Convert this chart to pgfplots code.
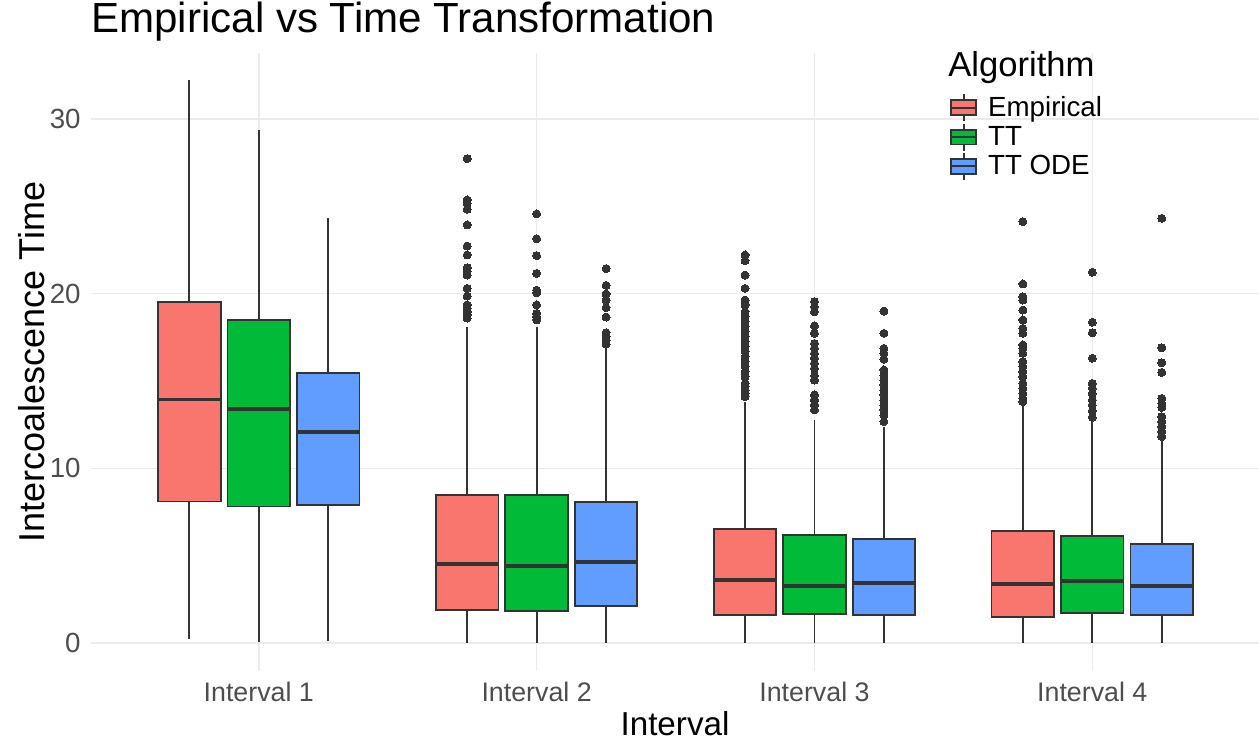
\documentclass[border=0pt]{standalone}
\usepackage{fontspec}
\setmainfont{Liberation Sans}
\usepackage{pgfplots}
\pgfplotsset{compat=1.18}
\usepgfplotslibrary{statistics}
\definecolor{cEmp}{HTML}{F8766D}
\definecolor{cTT}{HTML}{00BA38}
\definecolor{cODE}{HTML}{619CFF}
\definecolor{cLine}{HTML}{333333}
\definecolor{cGrid}{HTML}{EBEBEB}
\definecolor{cTick}{HTML}{4D4D4D}
\newcommand{\legkey}[1]{%
  \draw[cLine, line width=0.9pt] (6.25pt,-6.75pt) -- (6.25pt,6.75pt);
  \draw[cLine, fill=#1, line width=0.9pt] (0pt,-3.7pt) rectangle (12.5pt,3.7pt);
  \draw[cLine, line width=0.9pt] (0pt,0pt) -- (12.5pt,0pt);}
\pgfplotsset{
  mybox/.style={forget plot, draw=cLine, line width=0.9pt, fill=#1,
    mark=*, mark size=2pt, mark options={fill=cLine, draw=cLine, line width=0pt, solid},
    boxplot/every median/.style={line width=1.7pt}},
}
\begin{document}
\begin{tikzpicture}
\useasboundingbox (-45.5pt,-34.5pt) rectangle (584pt,335.5pt);
\begin{axis}[
  scale only axis, width=584pt, height=309pt,
  xmin=0.396, xmax=4.6, ymin=-1.60, ymax=33.77,
  clip=false,
  boxplot/draw direction=y,
  boxplot/box extend=0.225, boxplot/whisker extend=0,
  xtick={1,2,3,4}, xticklabels={Interval 1,Interval 2,Interval 3,Interval 4},
  ytick={0,10,20,30},
  grid=major, major grid style={cGrid, line width=0.75pt},
  axis line style={draw=none}, major tick length=0pt,
  tick label style={font=\fontsize{13.85}{16}\selectfont, text=cTick},
  /pgf/number format/assume math mode=true,
  yticklabel style={anchor=east, inner sep=0pt, xshift=-5pt},
  xticklabel style={anchor=base, inner sep=0pt, yshift=-15.35pt, font=\fontsize{13.4}{16}\selectfont},
  legend style={at={(axis description cs:0.7354,0.9353)}, anchor=north west, draw=none, fill=none,
    inner sep=0pt, row sep=0.25pt, font=\fontsize{13.85}{16}\selectfont, nodes={inner sep=0pt},
    /tikz/every odd column/.append style={column sep=5.5pt}},
  legend cell align=left,
]
% Interval 1
\addplot[mybox=cEmp, boxplot prepared={draw position=0.75, lower whisker=0.22, lower quartile=8.10, median=13.95, upper quartile=19.53, upper whisker=32.2}] coordinates {};
\addplot[mybox=cTT, boxplot prepared={draw position=1, lower whisker=0.07, lower quartile=7.82, median=13.4, upper quartile=18.5, upper whisker=29.34}] coordinates {};
\addplot[mybox=cODE, boxplot prepared={draw position=1.25, lower whisker=0.1, lower quartile=7.88, median=12.09, upper quartile=15.44, upper whisker=24.3}] coordinates {};
% Interval 2
\addplot[mybox=cEmp, boxplot prepared={draw position=1.75, lower whisker=0, lower quartile=1.89, median=4.52, upper quartile=8.47, upper whisker=18.1}]
  table[row sep=\\, y index=0] {y\\ 27.72\\ 25.36\\ 25.17\\ 24.83\\ 23.93\\ 22.72\\ 22.21\\ 21.48\\ 21.29\\ 21.06\\ 20.3\\ 19.86\\ 19.35\\ 19.16\\ 18.97\\ 18.78\\ 18.6\\};
\addplot[mybox=cTT, boxplot prepared={draw position=2, lower whisker=0, lower quartile=1.83, median=4.41, upper quartile=8.47, upper whisker=18.1}]
  table[row sep=\\, y index=0] {y\\ 24.56\\ 23.13\\ 22.17\\ 21.16\\ 20.2\\ 20.05\\ 19.35\\ 18.87\\ 18.68\\ 18.49\\};
\addplot[mybox=cODE, boxplot prepared={draw position=2.25, lower whisker=0, lower quartile=2.12, median=4.64, upper quartile=8.07, upper whisker=16.81}]
  table[row sep=\\, y index=0] {y\\ 21.43\\ 20.47\\ 19.98\\ 19.63\\ 19.19\\ 18.66\\ 17.76\\ 17.53\\ 17.34\\ 17.11\\};
% Interval 3
\addplot[mybox=cEmp, boxplot prepared={draw position=2.75, lower whisker=0, lower quartile=1.6, median=3.6, upper quartile=6.53, upper whisker=13.8}]
  table[row sep=\\, y index=0] {y\\ 22.21\\ 21.88\\ 21.06\\ 20.3\\ 19.63\\ 19.35\\ 18.96\\ 18.68\\ 18.39\\ 18.1\\ 17.82\\ 17.53\\ 17.25\\ 16.96\\ 16.68\\ 16.39\\ 16.1\\ 15.82\\ 15.53\\ 15.24\\ 14.86\\ 14.67\\ 14.48\\ 14.3\\ 14.1\\};
\addplot[mybox=cTT, boxplot prepared={draw position=3, lower whisker=0, lower quartile=1.66, median=3.26, upper quartile=6.18, upper whisker=12.76}]
  table[row sep=\\, y index=0] {y\\ 19.54\\ 19.25\\ 18.96\\ 18.15\\ 17.73\\ 17.15\\ 16.87\\ 16.58\\ 16.3\\ 16.01\\ 15.72\\ 15.3\\ 15.05\\ 14.2\\ 13.91\\ 13.62\\ 13.34\\};
\addplot[mybox=cODE, boxplot prepared={draw position=3.25, lower whisker=0, lower quartile=1.6, median=3.43, upper quartile=5.95, upper whisker=12.38}]
  table[row sep=\\, y index=0] {y\\ 19.0\\ 17.73\\ 16.87\\ 16.58\\ 16.24\\ 15.63\\ 15.34\\ 15.05\\ 14.77\\ 14.48\\ 14.2\\ 13.91\\ 13.62\\ 13.34\\ 13.05\\ 12.67\\};
% Interval 4
\addplot[mybox=cEmp, boxplot prepared={draw position=3.75, lower whisker=0, lower quartile=1.49, median=3.38, upper quartile=6.41, upper whisker=13.6}]
  table[row sep=\\, y index=0] {y\\ 24.12\\ 20.55\\ 19.82\\ 19.63\\ 19.06\\ 18.49\\ 18.01\\ 17.73\\ 17.06\\ 16.87\\ 16.58\\ 16.1\\ 15.82\\ 15.53\\ 15.24\\ 14.86\\ 14.58\\ 14.29\\ 14.0\\ 13.81\\};
\addplot[mybox=cTT, boxplot prepared={draw position=4, lower whisker=0, lower quartile=1.72, median=3.55, upper quartile=6.12, upper whisker=12.67}]
  table[row sep=\\, y index=0] {y\\ 21.22\\ 18.36\\ 17.76\\ 16.3\\ 14.86\\ 14.58\\ 14.29\\ 13.91\\ 13.62\\ 13.3\\ 12.92\\};
\addplot[mybox=cODE, boxplot prepared={draw position=4.25, lower whisker=0, lower quartile=1.6, median=3.26, upper quartile=5.67, upper whisker=11.62}]
  table[row sep=\\, y index=0] {y\\ 24.31\\ 16.9\\ 16.04\\ 15.49\\ 14.0\\ 13.72\\ 13.49\\ 12.95\\ 12.67\\ 12.38\\ 12.1\\ 11.81\\};
% legend
\addlegendimage{legend image code/.code={\legkey{cEmp}}}
\addlegendentry{Empirical}
\addlegendimage{legend image code/.code={\legkey{cTT}}}
\addlegendentry{TT}
\addlegendimage{legend image code/.code={\legkey{cODE}}}
\addlegendentry{TT ODE}
\node[anchor=base west, font=\fontsize{17.3}{20}\selectfont, inner sep=0pt] at (axis description cs:0.7337,0.9617) {Algorithm};
\node[anchor=base west, font=\fontsize{21.05}{24}\selectfont, inner sep=0pt] at (axis description cs:0,1.0324) {Empirical vs Time Transformation};
\node[anchor=base, font=\fontsize{16.6}{20}\selectfont, inner sep=0pt] at (axis description cs:0.5,-0.1036) {Interval};
\node[rotate=90, anchor=base, font=\fontsize{18}{20}\selectfont, inner sep=0pt] at (axis description cs:-0.0402,0.5) {Intercoalescence Time};
\end{axis}
\end{tikzpicture}
\end{document}
